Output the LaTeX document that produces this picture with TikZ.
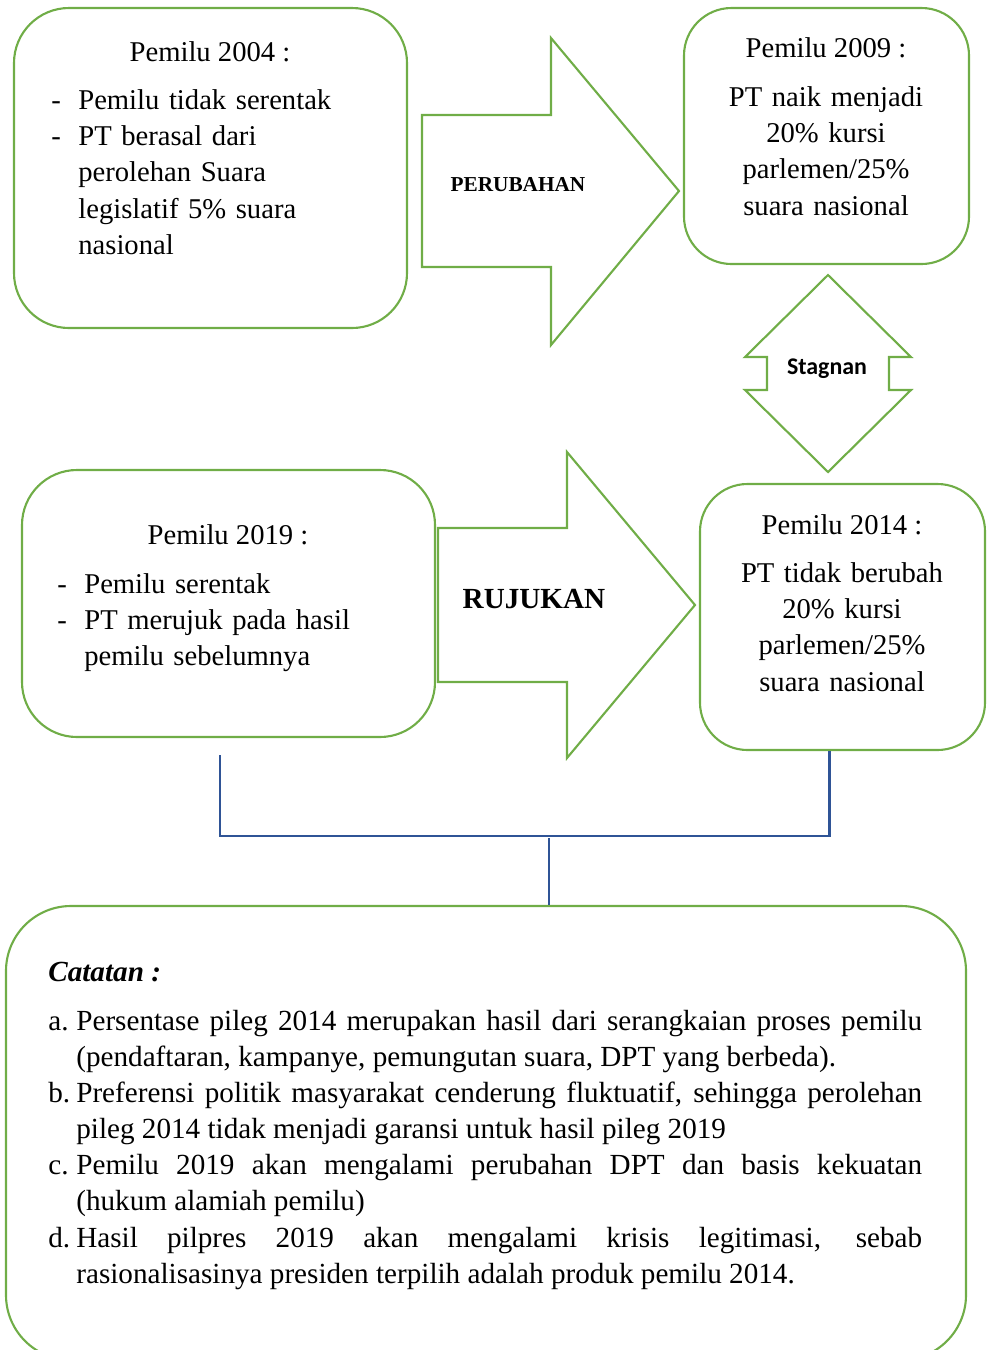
\documentclass[tikz,border=0pt]{standalone}
\usepackage{fontspec}
\setmainfont{Liberation Serif}
\newfontfamily\calibri{Carlito}
\usetikzlibrary{positioning,fit}
\definecolor{leaf}{HTML}{70AD47}
\definecolor{navy}{HTML}{2F5496}
\newcommand{\dashitem}[1]{\hangindent=0.54cm\hangafter=1\noindent\makebox[0.54cm][l]{-}#1\par}
\newcommand{\noteitem}[2]{\hangindent=0.56cm\hangafter=1\noindent\makebox[0.56cm][l]{#1}#2\par}

\begin{document}
\begin{tikzpicture}[x=0.02cm,y=-0.02cm,
  box/.style={draw=leaf,line width=1.2pt,inner sep=0pt},
  bigarrow/.style={draw=leaf,line width=1.2pt,line join=miter},
  body/.style={font=\fontsize{16.3}{20.7}\selectfont,inner sep=0pt},
  link/.style={draw=navy,line width=1.3pt}]
\useasboundingbox (0,0) rectangle (987,1350);
% boxes
\node[box,rounded corners=1.1cm,fit={(14,8) (407,328)}] (p04) {};
\node[box,rounded corners=0.95cm,fit={(684,8) (969,264)}] (p09) {};
\node[box,rounded corners=1.1cm,fit={(22,470) (435,737)}] (p19) {};
\node[box,rounded corners=0.95cm,fit={(700,484) (985,750)}] (p14) {};
\node[box,rounded corners=1.3cm,fit={(6,906) (966,1360)}] (note) {};
% block arrows
\draw[bigarrow] (422,115) -- (551,115) -- (551,38) -- (679,191) -- (551,345) -- (551,267) -- (422,267) -- cycle;
\node[font=\bfseries\fontsize{12.1}{14}\selectfont] (ubah) at (518,185) {PERUBAHAN};
\draw[bigarrow] (828,275) -- (911,357) -- (889,357) -- (889,390) -- (911,390) -- (828,472)
  -- (745,390) -- (767,390) -- (767,357) -- (745,357) -- cycle;
\node[font=\calibri\bfseries\fontsize{13.6}{16}\selectfont] (stag) at (827,369) {Stagnan};
\draw[bigarrow] (438,528) -- (567,528) -- (567,452) -- (695,605) -- (567,758) -- (567,682) -- (438,682) -- cycle;
\node[font=\bfseries\fontsize{16.6}{20}\selectfont] (rujuk) at (534,599) {RUJUKAN};
% texts
\node[body,anchor=base] (h04) at (210,61) {Pemilu 2004 :};
\node[body,anchor=base west,text width=7cm,align=left] (t04) at (51,109)
  {\dashitem{Pemilu tidak serentak}\dashitem{PT berasal dari\newline perolehan Suara\newline legislatif 5\% suara\newline nasional}};
\node[body,anchor=base] (h09) at (826,57) {Pemilu 2009 :};
\node[body,anchor=base,text width=5cm,align=center] (t09) at (826,106)
  {PT naik menjadi\\ 20\% kursi\\ parlemen/25\%\\ suara nasional};
\node[body,anchor=base] (h19) at (228,544) {Pemilu 2019 :};
\node[body,anchor=base west,text width=7.4cm,align=left] (t19) at (57,593)
  {\dashitem{Pemilu serentak}\dashitem{PT merujuk pada hasil\newline pemilu sebelumnya}};
\node[body,anchor=base] (h14) at (842,534) {Pemilu 2014 :};
\node[body,anchor=base,text width=5cm,align=center] (t14) at (842,582)
  {PT tidak berubah\\ 20\% kursi\\ parlemen/25\%\\ suara nasional};
\node[body,font=\fontsize{16.6}{20.7}\selectfont,anchor=base west] (cat) at (48,981) {\bfseries\itshape Catatan :};
\node[body,font=\fontsize{16.6}{20.6}\selectfont,anchor=base west,text width=17.48cm,align=justify] (notes) at (48,1030)
  {\noteitem{a.}{Persentase pileg 2014 merupakan hasil dari serangkaian proses pemilu\linebreak (pendaftaran, kampanye, pemungutan suara, DPT yang berbeda).}%
   \noteitem{b.}{Preferensi politik masyarakat cenderung fluktuatif, sehingga perolehan\linebreak pileg 2014 tidak menjadi garansi untuk hasil pileg 2019}%
   \noteitem{c.}{Pemilu 2019 akan mengalami perubahan DPT dan basis kekuatan\linebreak (hukum alamiah pemilu)}%
   \noteitem{d.}{Hasil pilpres 2019 akan mengalami krisis legitimasi, sebab\linebreak rasionalisasinya presiden terpilih adalah produk pemilu 2014.}};
% connectors
\coordinate (c19) at (220,755);
\coordinate (mid) at (549,838);
\draw[link] (c19) -- ++(0,81) -| ([xshift=-0.26cm]p14.south);
\draw[link] (mid) -- (mid |- note.north);
\end{tikzpicture}
\end{document}
